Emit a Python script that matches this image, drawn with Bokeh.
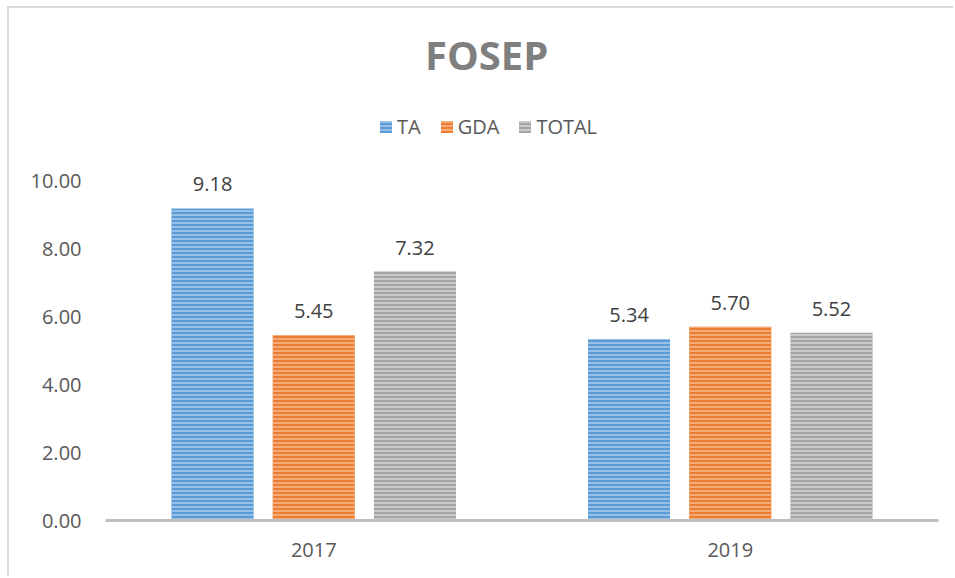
from bokeh.plotting import figure
from bokeh.models import (ColumnDataSource, Range1d, FixedTicker, Legend, LegendItem,
                          LabelSet, Label, NumeralTickFormatter)
from bokeh.transform import dodge
from bokeh.core.properties import value
from bokeh.embed import file_html
from bokeh.resources import INLINE

# ---- data ----
years = ["2017", "2019"]
series = ["TA", "GDA", "TOTAL"]
ta = [9.18, 5.34]
gda = [5.45, 5.70]
total = [7.32, 5.52]
y_ticks = [0, 2, 4, 6, 8, 10]
title_text = "FOSEP"

# ---- styles ----
colors = ["#5B9BD5", "#ED7D31", "#A5A5A5"]
hatch_colors = ["#A9CDEE", "#F7BC94", "#D6D6D6"]
offsets = [-0.243, 0.0, 0.243]
FONT = "Open Sans"

p = figure(x_range=years, y_range=Range1d(0, 15), width=946, height=570,
           output_backend="svg", toolbar_location=None,
           min_border_left=96, min_border_right=17, min_border_top=2, min_border_bottom=58)
p.margin = (6, 0, 0, 7)
p.styles = {"border-left": "2px solid #D9D9D9", "border-top": "2px solid #D9D9D9"}
p.x_range.range_padding = 0
p.outline_line_color = None
p.xgrid.visible = False
p.ygrid.visible = False
p.background_fill_color = "white"
p.border_fill_color = "white"

renderers = []
for name, vals, c, hc, off in zip(series, [ta, gda, total], colors, hatch_colors, offsets):
    src = ColumnDataSource(dict(x=years, y=vals, label=["%.2f" % v for v in vals]))
    r = p.vbar(x=dodge("x", off, range=p.x_range), top="y", width=0.197, source=src,
               fill_color=c, line_color=None, hatch_pattern="horizontal_line",
               hatch_color=hc, hatch_scale=4, hatch_weight=1.5)
    renderers.append(r)
    p.add_layout(LabelSet(x=dodge("x", off, range=p.x_range), y="y", text="label", source=src,
                          text_align="center", text_baseline="bottom", y_offset=17,
                          text_font=value(FONT), text_font_size=value("20px"), text_color="#404040"))

# axes
p.xaxis.axis_line_color = "#BFBFBF"
p.xaxis.axis_line_width = 3
p.xaxis.major_tick_line_color = None
p.xaxis.minor_tick_line_color = None
p.xaxis.major_label_text_font = FONT
p.xaxis.major_label_text_font_size = "20px"
p.xaxis.major_label_text_color = "#595959"
p.xaxis.major_label_standoff = 16

p.yaxis.axis_line_color = None
p.yaxis.major_tick_line_color = None
p.yaxis.minor_tick_line_color = None
p.yaxis.ticker = FixedTicker(ticks=y_ticks)
p.yaxis.formatter = NumeralTickFormatter(format="0.00")
p.yaxis.major_label_text_font = FONT
p.yaxis.major_label_text_font_size = "20px"
p.yaxis.major_label_text_color = "#595959"
p.yaxis.major_label_standoff = 18

# title
p.add_layout(Label(x=0.915, y=13.7, text=title_text, text_align="center", text_baseline="middle",
                   text_font=FONT, text_font_size="40px", text_font_style="bold",
                   text_color="#7F7F7F"))

# legend
legend = Legend(items=[LegendItem(label=s, renderers=[r]) for s, r in zip(series, renderers)],
                orientation="horizontal", location=(273, 380), glyph_width=15, glyph_height=15,
                label_standoff=4, spacing=18, padding=0, margin=0, border_line_alpha=0,
                background_fill_alpha=0, label_text_font=FONT, label_text_font_size="20px",
                label_text_color="#595959")
p.add_layout(legend)

open("out.html", "w").write(file_html(p, INLINE))
